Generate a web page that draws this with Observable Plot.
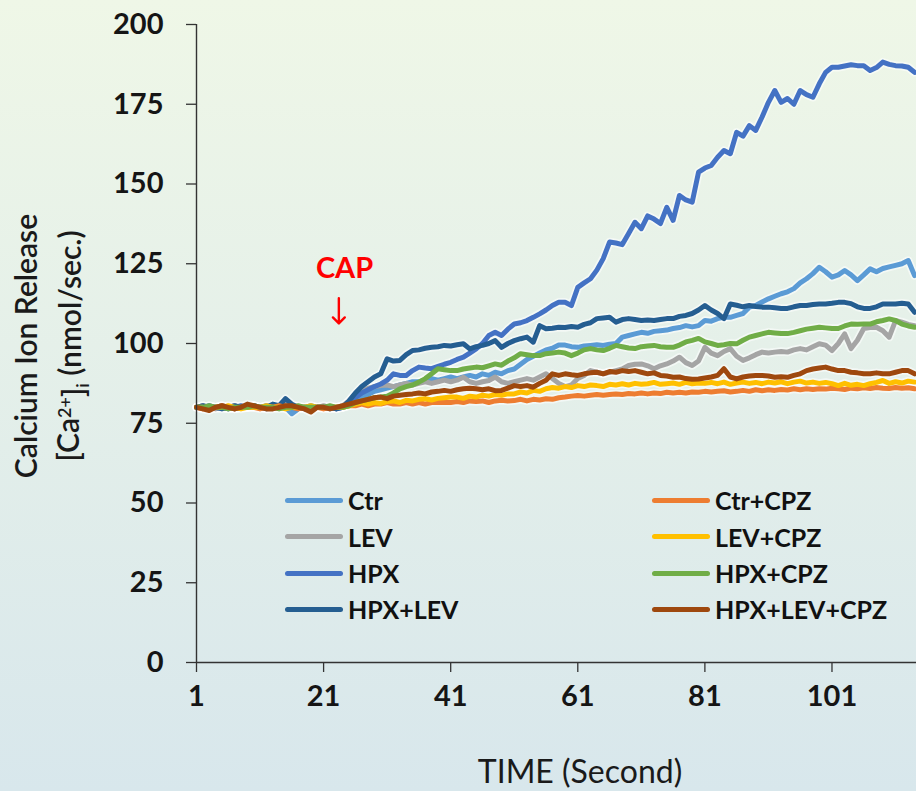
<!DOCTYPE html>
<html>
<head>
<meta charset="utf-8">
<script src="https://cdn.jsdelivr.net/npm/d3@7"></script>
<script src="https://cdn.jsdelivr.net/npm/@observablehq/plot@0.6"></script>
<style>
  html, body { margin: 0; padding: 0; }
  body { width: 916px; height: 791px; overflow: hidden;
         background: linear-gradient(#eff7e7, #d8e7ec); font-family: Lato, "Open Sans", sans-serif; }
  #wrap { position: relative; width: 916px; height: 791px; }
  #chart svg { display: block; }
  .lg { position: absolute; display: flex; align-items: center; height: 30px; }
  .lg .sw { width: 58px; height: 5px; border-radius: 3px; margin-right: 5px; }
  .lg .tx { font: 700 25px Lato, sans-serif; color: #111; white-space: nowrap; }
</style>
</head>
<body>
<div id="wrap"><div id="chart"></div><div id="legend"></div></div>
<script>
// ---- data ----
const seriesNames = ["Ctr", "LEV", "HPX", "HPX+LEV", "Ctr+CPZ", "LEV+CPZ", "HPX+CPZ", "HPX+LEV+CPZ"];
const seriesColors = ["#5B9BD5", "#A5A5A5", "#4472C4", "#255E91", "#ED7D31", "#FFC000", "#70AD47", "#9E480E"];
const xTicks = [1, 21, 41, 61, 81, 101];
const yTicks = [0, 25, 50, 75, 100, 125, 150, 175, 200];

const ctr = [80,80,79.5,80,80.5,80,79.5,80,80,80.5,80,79.5,80,80.5,80,78,79.5,80,80.5,80,80,79.5,80,80,
  81,82,83,84,85,85.5,86,86.5,87,87.5,88,
  88,88.5,89,88.5,89,89.5,89,89.5,90,89.5,90.5,90,91,90.5,91.5,
  92,93.5,95,96,97,98,98.5,99.5,
  99.5,99,98.8,99.2,99.4,99.6,99.4,99.8,100,
  102,102.5,103,103.5,103.2,103.8,104,104.2,104.7,105,105.6,105.2,105.6,
  107.2,107,107.8,108.2,108.2,108.8,109.4,111.4,111.9,113,
  114,114.8,115.6,116.2,117.2,119,120.3,121.9,123.9,122.5,
  120.8,121.5,122.9,121.5,119.7,121.5,123.4,122.5,123.5,124,124.5,125,126,121.3];
const lev = [80,80.5,80,79.5,80,80,80.5,80,80,80.5,80,80,80.5,80,81,80,80,80,80,80,80.5,80,80,80.5,
  82,84,85,86,86.5,86.8,87,86.5,87,87.5,87,
  87.5,88,87.5,88,88.5,88,88.5,89.4,88,87.5,88,88.4,89.5,88,87.5,
  88,88.5,89,88.5,89.5,90.5,89,87.5,
  86.5,87,89,90,91.5,91,90.5,91,91.5,
  92,93.1,93.5,93.6,93,92.1,93,93.6,94.5,95.7,94,93.1,94.5,
  98.8,97,96.2,97.5,98.4,96,94.7,95.5,96.5,97.3,
  97,97.3,97.5,97.3,98,98.4,98,99,99.9,99.5,
  97.8,100,103,98.4,101,104.7,105,105.1,104,102,107.2,106.7,106,105.6];
const hpx = [80,80,80.5,80,80,79.5,80,80.5,80,80,80,80.5,80,80,80,80.5,80,79.5,80,80,80,80,79.5,80,
  81.5,83,84.5,85.5,86.5,87.3,88.5,90.5,90,90,91.5,
  92.6,92.3,92.1,92.8,93.5,94.1,95,95.7,97,98.3,100,102.5,103.5,102.5,104.5,
  106.1,106.5,107.2,108.2,109.3,110.5,111.9,112.9,
  112.9,111.9,117.6,119,120.3,123,126.6,131.8,131.5,
  131,134.5,138,136,140,139,137.6,142.7,138.6,146.4,145,144.3,153.7,
  155,155.8,158.4,160.5,159.5,166.2,165,168.3,166.8,171,
  175.6,179.3,175.6,176.8,175,179.3,178,177.2,181.4,185,
  186.6,186.6,187,187.4,187.1,187.1,185.6,186.5,188.2,187.5,187.1,187,186.6,185];
const hpxLev = [80,80.5,80,80,79.5,80,80.5,80,80,80.5,80,80,81,80.5,82.7,81,80,80,79.5,80,80,80,79.5,80,
  82,84.5,86.5,88,89.5,90.5,95.2,94.5,94.7,96.5,97.8,
  98,98.5,98.8,99,99.4,99.2,99.6,99.9,98.3,99,99.4,100,100.9,98.8,100,
  100.9,101.5,102,100.4,105.6,104.6,104.8,105.1,
  105,105.3,105.1,106,106.5,107.8,108,108.2,106.7,
  107.5,107.8,107.5,107.2,107.4,107.2,107.5,107.8,107.8,108.5,108.8,109.4,110.5,
  111.9,110.5,109.4,107.8,112.4,112,111.5,111.9,111.6,111.4,
  111.4,111.2,111,111,111.5,111.9,111.9,112.2,112.4,112.4,
  112.6,112.9,112.9,112.5,111.5,111,111,111.5,112.4,112.4,112.4,112.6,112.4,109.8];
const ctrCpz = [80,79.5,80,80,80.5,80,79.5,80,80,80,79.5,80,80,80.5,80,80,79.5,80,80,80,79.5,80,80,80,
  80.5,80.5,81,80.5,81,81,81.5,81,81,81.5,81,
  81.5,81,81.5,81.5,81.6,81.5,81.8,81.5,82,81.8,82,81.5,82,82.2,82,
  82.1,82.5,82,82.5,82.3,82.7,82.5,83,
  83.2,83.5,83.7,83.5,83.8,84,83.8,84,84.2,
  84,84.3,84.2,84.5,84.2,84.5,84.3,84.7,84.5,84.7,84.5,84.8,84.7,
  85,84.8,85,85.2,84.8,85,85.3,85,85.5,85.2,
  85.5,85.3,85.6,85.4,85.8,85.5,85.8,85.6,85.8,85.7,
  86,85.8,85.6,86,85.8,86.1,85.9,86.2,86,85.9,86.2,86,86.1,85.8];
const levCpz = [80,80,79.5,80,80,80.5,80,79.5,80,80,80,80.5,80,80,79.5,80,80,80,80.5,80,80,80,80,80,
  80.5,81,81.5,81,81.5,81.2,81.8,82,81.5,82.2,82,
  82.5,82.7,82.3,82.8,83,83.2,83.2,82.8,83.5,83.2,83.8,83.5,84,83.8,84.2,
  84.2,84.8,84.5,85.3,85,85.8,86.2,86,
  86.5,86.2,86.8,86.5,87,86.8,86.5,87.2,87,
  87.4,87,87.5,87.2,87.4,87.8,87.2,87.4,87.6,87.2,87.8,87.4,87.6,
  87.5,87.8,87.4,87.9,87.2,87.6,87.9,87.5,87.8,87.4,
  87.9,87.6,88,87.4,87.9,88.2,87.6,87.9,87.5,87.8,
  87.4,86.8,87.5,86.9,87.2,86.8,87.4,87.8,88.4,87.5,88,87.6,88.2,87.9];
const hpxCpz = [80,80,80.5,80,80,79.5,80,80,80,80.5,80,80,80,79.5,80,80,80.5,80,80,80,80,80.5,80,80,
  80.5,81.5,82,82.5,83,83.2,83.5,84.5,85.8,86.5,87,
  87.9,89,90.5,92.1,91.8,91.5,91.5,92,92.3,92.6,92.4,93,93.6,93.2,94.5,
  95.5,96.8,96.5,96.2,96.2,96.8,97,97.3,
  97,96.2,97,98,98.4,98,97.8,98.5,99.4,
  99,98.6,98.4,99,99.2,99.4,99,98.8,98.8,99.5,100.5,101,101.6,
  100.5,100,99.4,99.6,100,99.9,101,102,102.5,103,
  103.5,103.3,103.1,103.1,103.5,104,104.5,104.8,105.1,104.9,
  104.7,104.7,105.5,106.1,106,106.1,106.1,106.8,107.2,107.7,107.2,106.1,105.5,105.1];
const hpxLevCpz = [80,79.5,79,80,80.5,80,79.5,80,81,80.5,80,79.5,79.5,80,80.5,80.5,80,79.5,78.5,80,80,79.5,80,80.5,
  81,81.5,82,82.5,83,83.2,82.7,83.5,83.8,84,84.2,
  84.5,84.2,84.8,85,85.3,85,85.5,85.8,86,85.8,85.5,85.8,85.2,85.3,86,
  86.8,86.5,86.8,86.3,87.5,88.5,90.5,90,
  90.5,90.2,90,90.5,90.8,91,90.5,91.2,91,
  91.5,91.2,91.5,91,90.5,90.8,90,89.8,89.4,89.5,89,88.8,88.9,
  89.2,89.5,90,92.1,89.5,88.9,89.5,89.8,90,90,
  89.8,89.4,89.6,89.4,90,90.5,91.5,92,92.3,92.6,
  92,91.5,91.5,91,90.8,90.5,90.5,90.8,90.5,90.5,91,91.5,91.5,90.5];

const seriesValues = [ctr, lev, hpx, hpxLev, ctrCpz, levCpz, hpxCpz, hpxLevCpz];
const capLabel = {x: 24.3, y: 123.5, text: "CAP"};
const capArrow = {x: 23.4, y1: 114.2, y2: 106.3};

// ---- long table ----
const rows = [];
seriesNames.forEach((name, i) => {
  seriesValues[i].forEach((v, j) => rows.push({series: name, t: j + 1, v}));
});

const chart = Plot.plot({
  width: 916, height: 791,
  marginLeft: 196, marginRight: 0, marginTop: 24, marginBottom: 129,
  style: {background: "transparent", fontFamily: "Lato, sans-serif", overflow: "visible"},
  x: {domain: [1, 114.3]},
  y: {domain: [0, 200]},
  color: {domain: seriesNames, range: seriesColors},
  marks: [
    Plot.axisY({ticks: yTicks, tickSize: 10, tickPadding: 23, label: null, tickFormat: d => d,
      fontSize: 29, fontWeight: "bold", fill: "#151515", stroke: "#333", strokeWidth: 1.3}),
    Plot.axisX({ticks: xTicks, tickSize: 10, tickPadding: 13, label: null, tickFormat: d => d,
      fontSize: 29, fontWeight: "bold", fill: "#151515", stroke: "#333", strokeWidth: 1.3}),
    Plot.line(rows, {x: "t", y: "v", z: "series", stroke: "white", strokeWidth: 8.5, strokeOpacity: 0.55}),
    Plot.line(rows, {x: "t", y: "v", z: "series", stroke: "series", strokeWidth: 5}),
    Plot.ruleX([1], {stroke: "#333", strokeWidth: 1.4}),
    Plot.ruleY([0], {stroke: "#333", strokeWidth: 1.4}),
    Plot.text([capLabel], {x: "x", y: "y", text: "text", fill: "#ff0000", fontSize: 29, fontWeight: "bold"}),
    Plot.arrow([capArrow], {x: "x", y1: "y1", y2: "y2", stroke: "#ff0000", strokeWidth: 2.4, headAngle: 90, headLength: 16})
  ]
});
document.getElementById("chart").appendChild(chart);

// ---- axis titles ----
const svg = d3.select(chart);
svg.append("text")
  .attr("transform", "translate(37,346) rotate(-90)")
  .attr("text-anchor", "middle").attr("fill", "#1a1a1a")
  .style("font", "600 30px Lato, sans-serif")
  .text("Calcium Ion Release");
const t2 = svg.append("text")
  .attr("transform", "translate(79,346) rotate(-90)")
  .attr("text-anchor", "middle").attr("fill", "#1a1a1a")
  .style("font", "600 30px Lato, sans-serif");
t2.append("tspan").text("[Ca");
t2.append("tspan").attr("dy", "-0.45em").style("font-size", "18px").text("2+");
t2.append("tspan").attr("dy", "0.45em").text("]");
t2.append("tspan").attr("dy", "0.25em").style("font-size", "18px").text("i");
t2.append("tspan").attr("dy", "-0.25em").text(" (nmol/sec.)");
svg.append("text")
  .attr("x", 580).attr("y", 783)
  .attr("text-anchor", "middle").attr("fill", "#1a1a1a")
  .style("font", "400 32px Lato, sans-serif")
  .text("TIME (Second)");

// ---- legend ----
const legendLeft = [285, 652];
const legendTop = [500, 536.5, 573, 609];
const lg = d3.select("#legend");
seriesNames.forEach((name, i) => {
  const col = i < 4 ? 0 : 1, row = i % 4;
  const item = lg.append("div").attr("class", "lg")
    .style("left", legendLeft[col] + "px").style("top", (legendTop[row] - 15) + "px");
  item.append("div").attr("class", "sw").style("background", seriesColors[i]);
  item.append("div").attr("class", "tx").text(name);
});
</script>
</body>
</html>
